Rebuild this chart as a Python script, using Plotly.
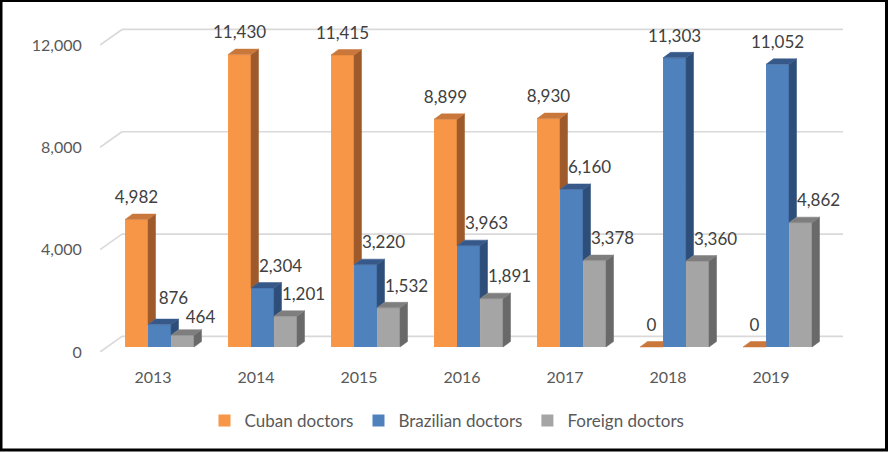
import plotly.graph_objects as go

# data
years = ["2013", "2014", "2015", "2016", "2017", "2018", "2019"]
cuban = [4982, 11430, 11415, 8899, 8930, 0, 0]
brazilian = [876, 2304, 3220, 3963, 6160, 11303, 11052]
foreign = [464, 1201, 1532, 1891, 3378, 3360, 4862]
series_names = ["Cuban doctors", "Brazilian doctors", "Foreign doctors"]
y_ticks = [0, 4000, 8000, 12000]

# styling / geometry for the fake 3D look
front_colors = ["#F79646", "#4F81BD", "#A5A5A5"]
top_colors = ["#C9773A", "#36598A", "#7E7E7E"]
side_colors = ["#9E5A2A", "#2E4E7A", "#696969"]

W, H = 888, 452
M_L, M_R, M_T, M_B = 100, 45, 20, 100
PX_CAT = 103.0          # pixels per category
PX_UNIT = 0.02558       # pixels per doctor
BAR_W = 23 / PX_CAT
FIRST_OFF = -0.257
DX = 7.5 / PX_CAT       # bar depth, x
DY = 5.5 / PX_UNIT      # bar depth, y
BASE = 5 / PX_UNIT      # bars stand a bit behind the front plane
BACK_DX = 22 / PX_CAT   # back wall offset
BACK_DY = 15.6 / PX_UNIT
LABEL_DY = 20.5 / PX_UNIT
LABEL_SHIFT = 0.175
MIN_GAP = 19 / PX_UNIT  # labels closer than this get pushed apart
Y_MAX = (H - M_B - M_T) / PX_UNIT
X_MAX = len(years) - 0.5 + BACK_DX

FONT = "Lato, 'Open Sans', sans-serif"

all_series = [cuban, brazilian, foreign]
cats = list(range(len(years)))

fig = go.Figure()

# front faces
for k, vals in enumerate(all_series):
    fig.add_trace(go.Bar(
        x=cats, y=vals, base=BASE, width=BAR_W, offset=FIRST_OFF + k * BAR_W,
        name=series_names[k], marker=dict(color=front_colors[k], line=dict(width=0)),
        hoverinfo="skip",
    ))

# side and top faces, series by series (left to right)
for k, vals in enumerate(all_series):
    nxt_vals = all_series[k + 1] if k + 1 < len(all_series) else None
    sx, sy, tx, ty = [], [], [], []
    for i, v in enumerate(vals):
        xl = i + FIRST_OFF + k * BAR_W
        xr = xl + BAR_W
        top = BASE + v
        nxt = nxt_vals[i] if nxt_vals is not None else None
        # side face, hidden where the next bar stands in front of it
        lower = BASE if nxt is None else max(BASE, BASE + nxt)
        if lower < top:
            sx += [xr, xr, xr + DX, xr + DX, xr, None]
            sy += [lower, top, top + DY, lower + DY, lower, None]
        # top face
        if nxt is not None and nxt > v:
            tx += [xl, xr, xr, xl + DX, xl, None]
            ty += [top, top, top + DY, top + DY, top, None]
        else:
            tx += [xl, xr, xr + DX, xl + DX, xl, None]
            ty += [top, top, top + DY, top + DY, top, None]
    fig.add_trace(go.Scatter(
        x=sx, y=sy, mode="lines", fill="toself", fillcolor=side_colors[k],
        line=dict(width=0.5, color=side_colors[k]), showlegend=False, hoverinfo="skip",
    ))
    fig.add_trace(go.Scatter(
        x=tx, y=ty, mode="lines", fill="toself", fillcolor=top_colors[k],
        line=dict(width=0.5, color=top_colors[k]), showlegend=False, hoverinfo="skip",
    ))

# data label positions
label_x, label_y = [], []
for k, vals in enumerate(all_series):
    prev_vals = all_series[k - 1] if k > 0 else None
    xs, ys = [], []
    for i, v in enumerate(vals):
        shift = LABEL_SHIFT if prev_vals is not None and prev_vals[i] > v else 0
        xs.append(i + FIRST_OFF + k * BAR_W + BAR_W / 2 + shift)
        ys.append(v + BASE + LABEL_DY)
    label_x.append(xs)
    label_y.append(ys)

# push apart neighbouring labels that would collide
for k in range(1, len(all_series)):
    for i in cats:
        dx = abs(label_x[k][i] - label_x[k - 1][i])
        dy = label_y[k - 1][i] - label_y[k][i]
        if dx < 0.3 and 0 <= dy < MIN_GAP:
            push = (MIN_GAP - dy) / 2
            label_y[k - 1][i] += push
            label_y[k][i] -= push
            label_x[k - 1][i] -= 0.04

for k, vals in enumerate(all_series):
    fig.add_trace(go.Scatter(
        x=label_x[k], y=label_y[k], text=[f"{v:,}" for v in vals],
        mode="text", textposition="middle center",
        textfont=dict(family=FONT, size=17, color="#404040"),
        showlegend=False, hoverinfo="skip",
    ))

# back wall and side wall gridlines
shapes = []
for v in y_ticks:
    shapes.append(dict(type="line", xref="x", yref="y", layer="below",
                       x0=-0.5 + BACK_DX, x1=X_MAX, y0=v + BACK_DY, y1=v + BACK_DY,
                       line=dict(color="#D9D9D9", width=1.7)))
    shapes.append(dict(type="line", xref="x", yref="y", layer="below",
                       x0=-0.5, x1=-0.5 + BACK_DX, y0=v, y1=v + BACK_DY,
                       line=dict(color="#D9D9D9", width=1.7)))

# black frame round the whole picture
pw = W - M_L - M_R
ph = H - M_T - M_B
shapes.append(dict(type="rect", xref="paper", yref="paper",
                   x0=(1 - M_L) / pw, x1=(W - 1.5 - M_L) / pw,
                   y0=(H - M_B - 450) / ph, y1=(H - M_B - 0.5) / ph,
                   line=dict(color="black", width=3), fillcolor="rgba(0,0,0,0)"))

fig.update_layout(
    width=W, height=H,
    margin=dict(l=M_L, r=M_R, t=M_T, b=M_B),
    paper_bgcolor="white", plot_bgcolor="white",
    barmode="overlay",
    shapes=shapes,
    showlegend=True,
    legend=dict(orientation="h", x=(447 - M_L) / pw, xanchor="center",
                y=(H - M_B - 421) / ph, yanchor="middle",
                font=dict(family=FONT, size=17, color="#595959"),
                itemwidth=30, traceorder="normal"),
    xaxis=dict(range=[-0.5, X_MAX], tickvals=[c + 0.015 for c in cats], ticktext=years,
               showgrid=False, zeroline=False, showline=False,
               ticks="outside", ticklen=11, tickcolor="rgba(0,0,0,0)",
               tickfont=dict(family=FONT, size=16, color="#595959")),
    yaxis=dict(range=[0, Y_MAX], tickvals=y_ticks, tickformat=",",
               showgrid=False, zeroline=False, showline=False,
               ticks="outside", ticklen=14, tickcolor="rgba(0,0,0,0)",
               tickfont=dict(family=FONT, size=16, color="#595959")),
)

fig.write_html("out.html", config={"displayModeBar": False},
               post_script="document.body.style.margin='0';")
